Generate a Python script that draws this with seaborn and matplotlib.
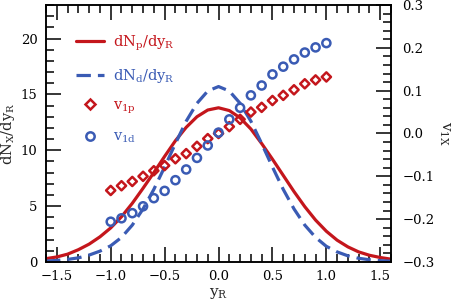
import matplotlib
matplotlib.use("Agg")
import matplotlib.pyplot as plt
import seaborn as sns
from matplotlib.lines import Line2D
from matplotlib.ticker import MultipleLocator

# --- data ---
y_curve = [-1.6, -1.5, -1.4, -1.3, -1.2, -1.1, -1.0, -0.9, -0.8, -0.7, -0.6, -0.5, -0.4, -0.3, -0.2, -0.1,
           0.0, 0.1, 0.2, 0.3, 0.4, 0.5, 0.6, 0.7, 0.8, 0.9, 1.0, 1.1, 1.2, 1.3, 1.4, 1.5, 1.6]
dn_p = [0.3, 0.45, 0.7, 1.1, 1.6, 2.25, 3.05, 4.05, 5.25, 6.6, 8.0, 9.45, 10.85, 12.05, 13.0, 13.6,
        13.8, 13.55, 12.9, 11.9, 10.6, 9.2, 7.75, 6.3, 4.95, 3.75, 2.75, 1.95, 1.35, 0.9, 0.6, 0.4, 0.25]
dn_d = [0.08, 0.14, 0.23, 0.37, 0.62, 0.97, 1.45, 2.2, 3.3, 4.75, 6.5, 8.5, 10.6, 12.6, 14.2, 15.3,
        15.7, 15.3, 14.2, 12.6, 10.6, 8.5, 6.5, 4.75, 3.3, 2.2, 1.4, 0.9, 0.55, 0.33, 0.2, 0.12, 0.07]

y_pts = [-1.0, -0.9, -0.8, -0.7, -0.6, -0.5, -0.4, -0.3, -0.2, -0.1, 0.0,
         0.1, 0.2, 0.3, 0.4, 0.5, 0.6, 0.7, 0.8, 0.9, 1.0]
v1_p = [-0.133, -0.122, -0.112, -0.100, -0.087, -0.075, -0.059, -0.047, -0.030, -0.012, 0.000,
        0.016, 0.033, 0.050, 0.061, 0.077, 0.089, 0.102, 0.116, 0.125, 0.132]
v1_d = [-0.206, -0.198, -0.186, -0.170, -0.151, -0.134, -0.109, -0.084, -0.057, -0.028, 0.002,
        0.033, 0.060, 0.089, 0.112, 0.138, 0.156, 0.173, 0.189, 0.201, 0.211]

x_ticks = [-1.5, -1.0, -0.5, 0.0, 0.5, 1.0, 1.5]
x_ticklabels = ["\u22121.5", "\u22121.0", "\u22120.5", "0.0", "0.5", "1.0", "1.5"]
v_ticks = [-0.3, -0.2, -0.1, 0.0, 0.1, 0.2, 0.3]
v_ticklabels = ["\u22120.3", "\u22120.2", "\u22120.1", "0.0", "0.1", "0.2", "0.3"]

red = "#c4161c"
blue = "#3a5bb4"

sns.set_style("ticks")
plt.rcParams["font.family"] = ["DejaVu Serif"]
plt.rcParams["mathtext.fontset"] = "dejavuserif"

fig = plt.figure(figsize=(4.57, 3.02), dpi=100)
ax = fig.add_axes([0.1007, 0.1325, 0.755, 0.851])
ax2 = ax.twinx()

# courbes dN/dy (axe gauche)
sns.lineplot(x=y_curve, y=dn_p, ax=ax, color=red, lw=2.3)
sns.lineplot(x=y_curve, y=dn_d, ax=ax, color=blue, lw=2.3)
ax.lines[-1].set_dashes([4.5, 2.2])

# points v1 (axe droit)
sns.scatterplot(x=y_pts, y=v1_p, ax=ax2, marker="D", s=22, facecolors="none",
                edgecolor=red, linewidth=1.8, zorder=3)
sns.scatterplot(x=y_pts, y=v1_d, ax=ax2, marker="o", s=34, facecolors="none",
                edgecolor=blue, linewidth=1.8, zorder=3)

ax.set_xlim(-1.6, 1.6)
ax.set_ylim(0, 23)
ax2.set_ylim(-0.3, 0.3)

ax.set_xticks(x_ticks)
ax.set_xticklabels(x_ticklabels)
ax.xaxis.set_minor_locator(MultipleLocator(0.1))
ax.set_yticks([0, 5, 10, 15, 20])
ax.yaxis.set_minor_locator(MultipleLocator(1))
ax2.set_yticks(v_ticks)
ax2.set_yticklabels(v_ticklabels)
ax2.yaxis.set_minor_locator(MultipleLocator(0.02))

ax.tick_params(axis="x", which="both", direction="in", top=True, bottom=True, color="black", width=1.1)
ax.tick_params(axis="y", which="both", direction="in", left=True, right=False, color="black", width=1.1)
ax.tick_params(which="major", length=11, labelsize=9.5, pad=6, labelcolor="black")
ax.tick_params(which="minor", length=5.5)
ax2.tick_params(axis="y", which="both", direction="in", right=True, left=False, color="black", width=1.1)
ax2.tick_params(axis="y", which="major", length=11, labelsize=9.5, pad=8, labelcolor="black")
ax2.tick_params(axis="y", which="minor", length=5.5)
for a in (ax, ax2):
    for s in a.spines.values():
        s.set_linewidth(1.1)
        s.set_color("black")

ax.set_xlabel(r"y$_\mathrm{R}$", fontsize=11, labelpad=2)
ax.set_ylabel(r"dN$_\mathrm{X}$/dy$_\mathrm{R}$", fontsize=10.5, labelpad=3)
ax2.set_ylabel(r"v$_\mathrm{1X}$", fontsize=11, rotation=270)
ax2.yaxis.set_label_coords(1.175, 0.5)

handles = [
    Line2D([], [], color=red, lw=2.3),
    Line2D([], [], color=blue, lw=2.3, dashes=[4.5, 2.2]),
    Line2D([], [], color=red, marker="D", ms=5, mfc="none", mew=1.8, ls="none"),
    Line2D([], [], color=blue, marker="o", ms=6, mfc="none", mew=1.8, ls="none"),
]
labels = [r"dN$_\mathrm{p}$/dy$_\mathrm{R}$", r"dN$_\mathrm{d}$/dy$_\mathrm{R}$",
          r"v$_\mathrm{1p}$", r"v$_\mathrm{1d}$"]
leg = ax2.legend(handles, labels, loc="upper left", bbox_to_anchor=(0.05, 0.94), frameon=False,
                 fontsize=10.5, labelspacing=0.95, handlelength=1.9, handletextpad=0.6)
for t, c in zip(leg.get_texts(), [red, blue, red, blue]):
    t.set_color(c)

fig.savefig("out.png", dpi=100)
